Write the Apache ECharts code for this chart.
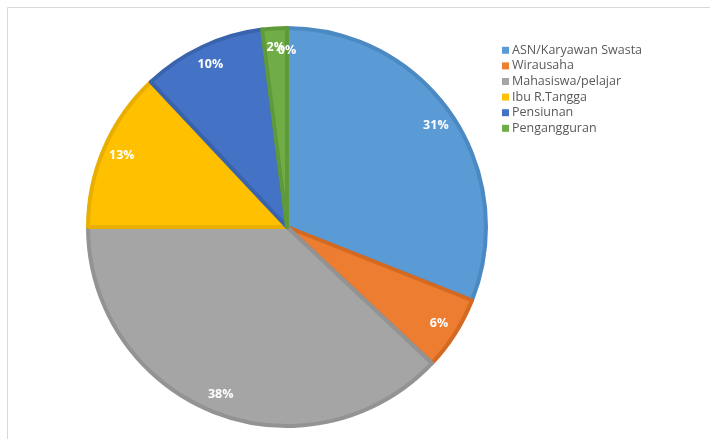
<!DOCTYPE html>
<html>
<head>
<meta charset="utf-8">
<script src="https://cdn.jsdelivr.net/npm/echarts@6/dist/echarts.min.js"></script>
<style>
  html, body { margin: 0; padding: 0; background: #fff; }
  #chart { width: 710px; height: 439px; }
</style>
</head>
<body>
<div id="chart"></div>
<script>
// Occupation breakdown (percent of respondents)
const categories = ['ASN/Karyawan Swasta', 'Wirausaha', 'Mahasiswa/pelajar', 'Ibu R.Tangga', 'Pensiunan', 'Pengangguran', 'Lainnya'];
const values = [31, 6, 38, 13, 10, 2, 0];
const legendNames = categories.slice(0, 6);

const fills   = ['#5B9BD5', '#ED7D31', '#A5A5A5', '#FFC000', '#4472C4', '#70AD47', '#264478'];
const borders = ['#4A89C2', '#D46A22', '#939393', '#E8AE00', '#3A63AE', '#5F9A3A', '#1E3A66'];

const pieData = categories.map((name, i) => ({
  name,
  value: values[i],
  itemStyle: { color: fills[i], borderColor: borders[i], borderWidth: values[i] > 0 ? 4 : 0 }
}));

const labelData = categories.map((name, i) => ({ name, value: values[i] }));

const center = [287, 227];
const outerR = 201;
const labelR = 177;

const labelFont = {
  fontFamily: 'Open Sans',
  fontWeight: 'bold',
  fontSize: 12.5
};

// Empty categories get no sector, so their percentage text is placed at
// their angular position (clockwise from 12 o'clock) on the label circle.
const total = values.reduce((a, b) => a + b, 0);
const emptyLabels = [];
let acc = 0;
values.forEach((v, i) => {
  const midFrac = (acc + v / 2) / total;
  acc += v;
  if (v !== 0) return;
  const ang = midFrac * 2 * Math.PI;
  emptyLabels.push({
    type: 'text',
    silent: true,
    z: 10,
    x: center[0] + labelR * Math.sin(ang),
    y: center[1] - labelR * Math.cos(ang),
    style: Object.assign({
      text: Math.round(v / total * 100) + '%',
      fill: '#ffffff',
      align: 'center',
      verticalAlign: 'middle'
    }, { font: 'bold 12.5px "Open Sans"' })
  });
});

const chart = echarts.init(document.getElementById('chart'), null, { renderer: 'canvas' });
chart.setOption({
  animation: false,
  backgroundColor: '#ffffff',
  graphic: [{
    type: 'rect',
    shape: { x: 7.5, y: 7.5, width: 740, height: 460 },
    style: { fill: 'none', stroke: '#d9d9d9', lineWidth: 1 },
    silent: true
  }].concat(emptyLabels),
  legend: {
    data: legendNames,
    orient: 'vertical',
    left: 497,
    top: 38,
    itemWidth: 7,
    itemHeight: 7,
    itemGap: 1,
    icon: 'rect',
    selectedMode: false,
    itemStyle: { borderWidth: 0 },
    textStyle: {
      fontFamily: 'Open Sans',
      fontSize: 12.5,
      color: '#595959',
      lineHeight: 14.6,
      padding: [0, 0, 0, -2]
    }
  },
  series: [
    {
      type: 'pie',
      center,
      radius: [0, outerR - 2],
      startAngle: 90,
      clockwise: true,
      avoidLabelOverlap: false,
      silent: true,
      label: { show: false },
      labelLine: { show: false },
      data: pieData
    },
    {
      // transparent ring that carries the percentage labels near the rim
      type: 'pie',
      center,
      radius: [2 * labelR - outerR, outerR],
      startAngle: 90,
      clockwise: true,
      avoidLabelOverlap: false,
      silent: true,
      legendHoverLink: false,
      itemStyle: { color: 'rgba(0,0,0,0)', borderWidth: 0 },
      label: Object.assign({
        show: true,
        position: 'inside',
        formatter: '{d}%',
        color: '#ffffff'
      }, labelFont),
      percentPrecision: 0,
      labelLine: { show: false },
      data: labelData
    }
  ]
});
</script>
</body>
</html>
